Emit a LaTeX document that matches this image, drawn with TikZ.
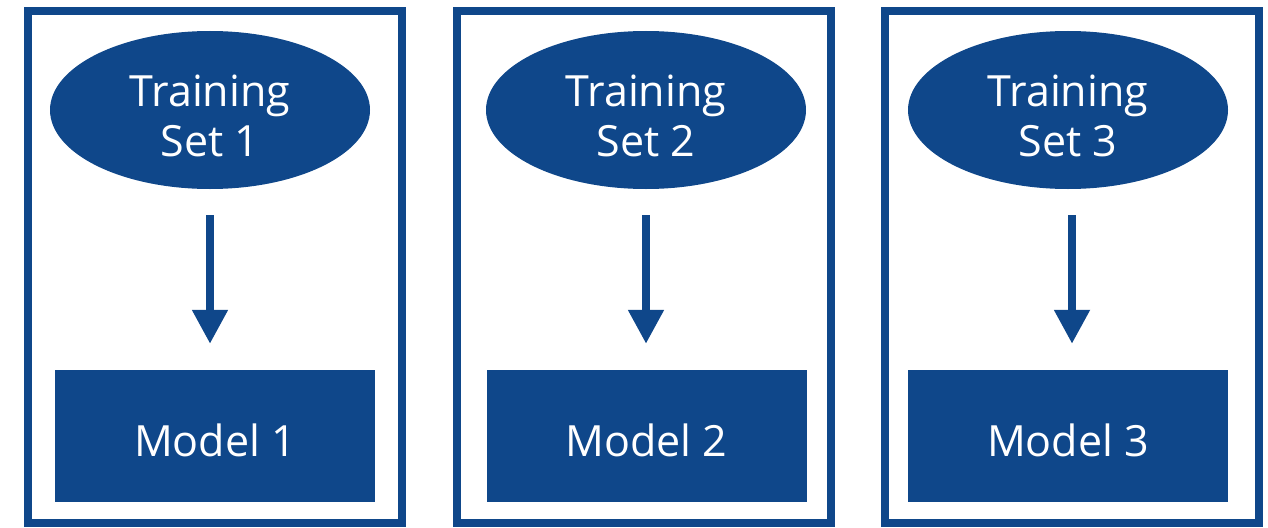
\documentclass[tikz,border=0pt]{standalone}
\usepackage{fontspec}
\setmainfont{Open Sans}
\usetikzlibrary{shapes.geometric,arrows.meta}
\definecolor{navy}{RGB}{15,71,138}
% taller first line keeps the two-line label a little below the ellipse centre
\newcommand{\toplift}{\rule{0pt}{44pt}}
\tikzset{
  panel/.style={draw=navy, line width=8pt},
  trainset/.style={ellipse, fill=navy, text=white, inner sep=0pt,
    minimum width=320pt, minimum height=158pt, align=center,
    font=\fontsize{43}{50}\selectfont},
  modelbox/.style={rectangle, fill=navy, text=white, inner sep=0pt,
    minimum width=320pt, minimum height=132pt, text height=40pt, text depth=0pt,
    font=\fontsize{43}{50}\selectfont},
  flow/.style={draw=navy, line width=8pt, -{Triangle[width=34pt,length=34pt]}}
}
\begin{document}
\begin{tikzpicture}[x=1pt,y=-1pt]
  \useasboundingbox (0,0) rectangle (1268,527);
  % frames around each training / model pair
  \draw[panel] (28,11.5) rectangle (402,523);
  \draw[panel] (457,11.5) rectangle (830.5,523);
  \draw[panel] (885,11.5) rectangle (1259,523);
  % training sets
  \node[trainset] (e1) at (210,110) {\toplift Training\\Set 1};
  \node[trainset] (e2) at (646,110) {\toplift Training\\Set 2};
  \node[trainset] (e3) at (1068,110) {\toplift Training\\Set 3};
  % resulting models
  \node[modelbox] (m1) at (215,436) {Model 1};
  \node[modelbox] (m2) at (646.5,436) {Model 2};
  \node[modelbox] (m3) at (1068,436) {Model 3};
  % training arrows
  \draw[flow] ([yshift=-26pt]e1.south) -- ([yshift=26pt]e1.south |- m1.north);
  \draw[flow] ([yshift=-26pt]e2.south) -- ([yshift=26pt]e2.south |- m2.north);
  \draw[flow] ([xshift=4pt,yshift=-26pt]e3.south) -- ([xshift=4pt,yshift=26pt]e3.south |- m3.north);
\end{tikzpicture}
\end{document}
